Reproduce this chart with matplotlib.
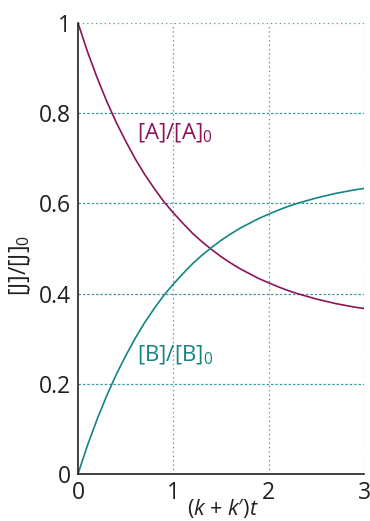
import numpy as np
import matplotlib
matplotlib.use("Agg")
import matplotlib.pyplot as plt

# values
kt = [0.0, 0.1, 0.2, 0.3, 0.4, 0.5, 0.6, 0.7, 0.8, 0.9, 1.0,
      1.1, 1.2, 1.3, 1.4, 1.5, 1.6, 1.7, 1.8, 1.9, 2.0,
      2.1, 2.2, 2.3, 2.4, 2.5, 2.6, 2.7, 2.8, 2.9, 3.0]
a_ratio = [1.000, 0.936, 0.879, 0.827, 0.780, 0.738, 0.699, 0.664, 0.633, 0.604, 0.579,
           0.556, 0.534, 0.515, 0.498, 0.482, 0.468, 0.455, 0.444, 0.433, 0.424,
           0.415, 0.407, 0.400, 0.394, 0.388, 0.383, 0.378, 0.374, 0.370, 0.367]
b_ratio = [0.000, 0.064, 0.121, 0.173, 0.220, 0.262, 0.301, 0.336, 0.367, 0.396, 0.421,
           0.444, 0.466, 0.485, 0.502, 0.518, 0.532, 0.545, 0.556, 0.567, 0.576,
           0.585, 0.593, 0.600, 0.606, 0.612, 0.617, 0.622, 0.626, 0.630, 0.633]
xticks = [0, 1, 2, 3]
yticks = [0, 0.2, 0.4, 0.6, 0.8, 1]
ytick_labels = ["0", "0.2", "0.4", "0.6", "0.8", "1"]

maroon = "#8c1458"
teal = "#138583"
grid_c = "#3f9c9c"
txt = "#231f20"

plt.rcParams["font.family"] = ["Open Sans", "DejaVu Sans"]
plt.rcParams["mathtext.fontset"] = "custom"
plt.rcParams["mathtext.rm"] = "Open Sans"
plt.rcParams["mathtext.it"] = "Open Sans:italic"

fig = plt.figure(figsize=(3.7, 5.21), dpi=100)
ax = fig.add_axes([0.2108, 0.0902, 0.773, 0.8657])

# grid
for y in yticks[1:-1]:
    ax.axhline(y, color=grid_c, lw=0.9, ls=(0, (2, 1.5)), zorder=1)
ax.axhline(1, color=grid_c, lw=0.9, ls=(0, (1, 2.5)), zorder=1)
for x in xticks[1:]:
    ax.axvline(x, color=grid_c, lw=0.9, ls=(0, (1, 2.5)), zorder=1)

ax.plot(kt, a_ratio, color=maroon, lw=1.2, zorder=3)
ax.plot(kt, b_ratio, color=teal, lw=1.2, zorder=3)

ax.text(0.62, 0.756, r"[A]/[A]$_{\mathregular{0}}$", color=maroon, fontsize=16,
        va="center", ha="left")
ax.text(0.62, 0.264, r"[B]/[B]$_{\mathregular{0}}$", color=teal, fontsize=16,
        va="center", ha="left")

ax.set_xlim(0, 3)
ax.set_ylim(0, 1)
for s in ["top", "right"]:
    ax.spines[s].set_visible(False)
for s in ["left", "bottom"]:
    ax.spines[s].set_color(txt)
    ax.spines[s].set_linewidth(1.2)
    ax.spines[s].set_zorder(4)

ax.set_xticks(xticks)
ax.set_yticks(yticks)
ax.set_yticklabels(ytick_labels)
ax.tick_params(length=0, labelsize=16.5, labelcolor=txt, pad=5)

ax.set_xlabel("($k$ + $k$\u2032)$t$", fontsize=15.5, color=txt, va="center")
ax.xaxis.set_label_coords(0.505, -0.077)
ax.set_ylabel(r"[J]/[J]$_{\mathregular{0}}$", fontsize=16.5, color=txt, va="center")
ax.yaxis.set_label_coords(-0.2, 0.463)

fig.savefig("out.png", dpi=100)
